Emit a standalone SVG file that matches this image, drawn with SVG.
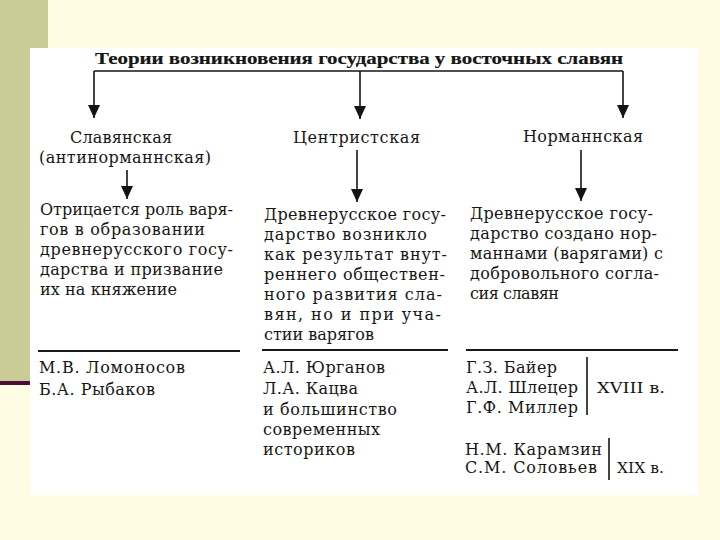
<svg xmlns="http://www.w3.org/2000/svg" width="720" height="540" viewBox="0 0 720 540">
<defs>
<style>
text{font-family:"DejaVu Serif","Liberation Serif",serif;fill:#161616;font-size:16px}
.t{font-family:"Liberation Serif","Times New Roman",serif;font-weight:bold;font-size:17px;stroke:#161616;stroke-width:0.2}
.c{font-size:15.5px}
.ln{stroke:#141414;stroke-width:1.6;fill:none}
.sep{stroke:#1a1a1a;stroke-width:2;fill:none}
</style>
<marker id="ah" viewBox="0 0 13 12" refX="13" refY="6" markerWidth="13" markerHeight="12" markerUnits="userSpaceOnUse" orient="auto">
<path d="M0,0 L13,6 L0,12 Z" fill="#141414"/>
</marker>
</defs>
<rect width="720" height="540" fill="#FEFDE3"/>
<rect x="0" y="0" width="48" height="382" fill="#CBCB98"/>
<rect x="0" y="381" width="30" height="4" fill="#4A0E3A"/>
<rect x="30" y="48" width="668" height="447" fill="#FFFFFF"/>

<g id="title">
<text class="t" x="95" y="64" textLength="528" lengthAdjust="spacingAndGlyphs">Теории возникновения государства у восточных славян</text>
</g>

<g id="connectors">
<path class="ln" d="M94,71 H623"/>
<path class="ln" d="M94,71 V118" marker-end="url(#ah)"/>
<path class="ln" d="M360,71 V119" marker-end="url(#ah)"/>
<path class="ln" d="M623,71 V118" marker-end="url(#ah)"/>
<path class="ln" d="M127,170 V199" marker-end="url(#ah)"/>
<path class="ln" d="M357,150 V202" marker-end="url(#ah)"/>
<path class="ln" d="M581,150 V201" marker-end="url(#ah)"/>
<path class="sep" d="M38,351 H240"/>
<path class="sep" d="M262,350 H448"/>
<path class="sep" d="M466,350 H678"/>
<path class="ln" d="M587,357 V415"/>
<path class="ln" d="M609,438 V480"/>
</g>

<g id="slav">
<text x="70" y="143" textLength="102">Славянская</text>
<text x="39" y="163" textLength="172">(антинорманнская)</text>
</g>
<g id="centr">
<text x="293" y="143" textLength="127">Центристская</text>
</g>
<g id="norm">
<text x="523" y="142" textLength="120">Норманнская</text>
</g>

<g id="slav-desc">
<text x="40" y="215" textLength="193">Отрицается роль варя-</text>
<text x="40" y="235" textLength="165">гов в образовании</text>
<text x="40" y="255" textLength="193">древнерусского госу-</text>
<text x="40" y="275" textLength="183">дарства и призвание</text>
<text x="40" y="295" textLength="137">их на княжение</text>
</g>
<g id="centr-desc">
<text x="264" y="220" textLength="182">Древнерусское госу-</text>
<text x="264" y="240" textLength="163">дарство возникло</text>
<text x="264" y="260" textLength="183">как результат внут-</text>
<text x="264" y="280" textLength="181">реннего обществен-</text>
<text x="264" y="300" textLength="178">ного развития сла-</text>
<text x="264" y="320" textLength="177">вян, но и при уча-</text>
<text x="264" y="340" textLength="110">стии варягов</text>
</g>
<g id="norm-desc">
<text x="470" y="219" textLength="183">Древнерусское госу-</text>
<text x="470" y="239" textLength="187">дарство создано нор-</text>
<text x="470" y="259" textLength="193">маннами (варягами) с</text>
<text x="470" y="279" textLength="189">добровольного согла-</text>
<text x="470" y="299" textLength="89">сия славян</text>
</g>

<g id="slav-names">
<text x="39" y="373" textLength="146">М.В. Ломоносов</text>
<text x="39" y="395" textLength="116">Б.А. Рыбаков</text>
</g>
<g id="centr-names">
<text x="263" y="373" textLength="122">А.Л. Юрганов</text>
<text x="263" y="394" textLength="95">Л.А. Кацва</text>
<text x="263" y="415" textLength="134">и большинство</text>
<text x="263" y="435" textLength="117">современных</text>
<text x="263" y="455" textLength="92">историков</text>
</g>
<g id="norm-names">
<text x="466" y="373" textLength="91">Г.З. Байер</text>
<text x="466" y="393" textLength="112">А.Л. Шлецер</text>
<text x="466" y="413" textLength="112">Г.Ф. Миллер</text>
<text class="c" x="597" y="393" textLength="68" lengthAdjust="spacingAndGlyphs">XVIII в.</text>
<text x="465" y="455" textLength="137">Н.М. Карамзин</text>
<text x="465" y="473" textLength="132">С.М. Соловьев</text>
<text class="c" x="617" y="473" textLength="47" lengthAdjust="spacingAndGlyphs">XIX в.</text>
</g>
</svg>
